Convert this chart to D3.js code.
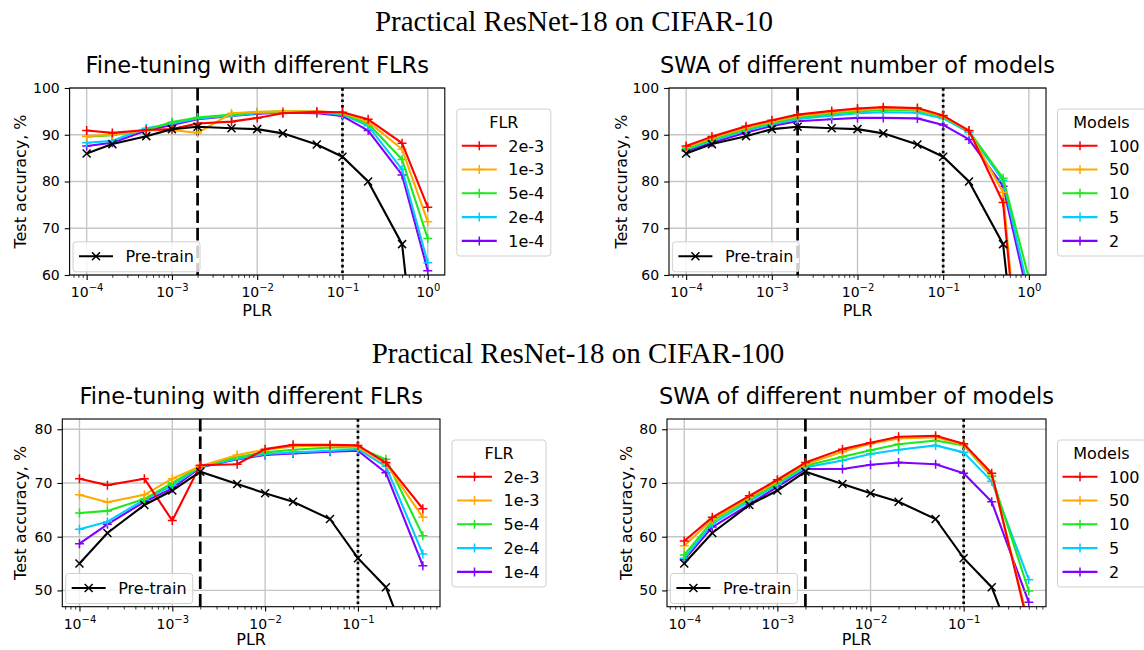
<!DOCTYPE html>
<html>
<head>
<meta charset="utf-8">
<script src="https://cdn.jsdelivr.net/npm/d3@7"></script>
<style>
  body { margin: 0; background: #fff; }
  svg text { font-family: "DejaVu Sans", sans-serif; fill: #000; }
</style>
</head>
<body>
<svg id="fig" width="1144" height="650"></svg>
<script>
// PLR values (x axis)
var plrC10 = [1e-4, 2e-4, 5e-4, 1e-3, 2e-3, 5e-3, 1e-2, 2e-2, 5e-2, 1e-1, 2e-1, 5e-1, 1];
var plrC100 = [1e-4, 2e-4, 5e-4, 1e-3, 2e-3, 5e-3, 1e-2, 2e-2, 5e-2, 1e-1, 2e-1, 5e-1];

var flrLabels = ["2e-3", "1e-3", "5e-4", "2e-4", "1e-4"];
var modelLabels = ["100", "50", "10", "5", "2"];
var seriesColors = ["#ff0000", "#ffaa00", "#1ee81e", "#00ccff", "#8000ff"];

var xTicksTop = [1e-4, 1e-3, 1e-2, 1e-1, 1];
var xTicksBottom = [1e-4, 1e-3, 1e-2, 1e-1];
var yTicksTop = [60, 70, 80, 90, 100];
var yTicksBottom = [50, 60, 70, 80];

// CIFAR-10
var c10Pretrain = [86.0, 88.0, 89.7, 91.2, 91.7, 91.4, 91.2, 90.3, 87.9, 85.3, 80.0, 66.6, 17.0];
var c10Ft2e3 = [90.9, 90.4, 91.0, 91.2, 92.4, 92.8, 93.6, 94.6, 94.9, 94.8, 93.3, 88.2, 74.5];
var c10Ft1e3 = [89.7, 90.0, 91.0, 91.0, 90.4, 94.6, 94.9, 95.0, 95.0, 94.7, 92.8, 86.9, 71.4];
var c10Ft5e4 = [89.6, 89.9, 91.0, 92.7, 93.7, 94.3, 94.8, 95.0, 94.9, 94.5, 92.4, 84.7, 67.8];
var c10Ft2e4 = [88.3, 88.7, 91.4, 92.4, 93.5, 94.1, 94.6, 94.8, 94.8, 94.3, 91.9, 82.6, 62.6];
var c10Ft1e4 = [87.6, 88.3, 90.9, 92.1, 93.3, 94.0, 94.5, 94.7, 94.6, 94.0, 90.9, 81.4, 60.9];

var c10Swa100 = [87.6, 89.6, 91.8, 93.1, 94.3, 95.1, 95.6, 95.9, 95.7, 94.1, 90.9, 75.5, 16.8];
var c10Swa50 = [87.3, 89.3, 91.5, 92.8, 94.0, 94.8, 95.3, 95.6, 95.4, 94.0, 90.8, 77.7, 17.0];
var c10Swa10 = [87.0, 89.0, 91.2, 92.5, 93.7, 94.5, 95.0, 95.3, 95.2, 93.8, 90.8, 80.7, 59.3];
var c10Swa5 = [86.8, 88.7, 90.9, 92.2, 93.4, 94.1, 94.6, 94.8, 94.7, 93.5, 90.5, 80.2, 56.3];
var c10Swa2 = [86.5, 88.3, 90.5, 91.9, 92.9, 93.3, 93.6, 93.6, 93.5, 92.1, 89.0, 79.0, 54.6];

// CIFAR-100
var c100Pretrain = [55.0, 60.7, 65.9, 68.6, 72.1, 69.8, 68.1, 66.5, 63.3, 56.0, 50.6, 33.0];
var c100Ft2e3 = [70.8, 69.6, 70.8, 63.0, 73.3, 73.5, 76.3, 77.1, 77.1, 77.0, 73.8, 65.2];
var c100Ft1e3 = [67.8, 66.4, 67.8, 70.8, 73.1, 75.2, 76.2, 76.8, 77.0, 76.7, 73.6, 63.6];
var c100Ft5e4 = [64.4, 64.8, 67.0, 70.0, 73.1, 74.8, 75.7, 76.2, 76.6, 76.6, 74.4, 60.2];
var c100Ft2e4 = [61.4, 62.8, 66.9, 69.5, 73.0, 74.5, 75.4, 75.7, 76.0, 76.3, 73.1, 56.8];
var c100Ft1e4 = [58.7, 62.3, 66.5, 69.0, 72.9, 74.4, 75.2, 75.5, 75.8, 76.0, 71.9, 54.6];

var c100Swa100 = [59.2, 63.6, 67.6, 70.6, 73.8, 76.3, 77.5, 78.6, 78.8, 77.3, 71.8, 43.0];
var c100Swa50 = [58.3, 63.2, 67.3, 70.3, 73.5, 75.8, 77.3, 78.3, 78.5, 77.1, 71.4, 43.8];
var c100Swa10 = [56.6, 62.9, 67.0, 70.0, 73.2, 74.9, 76.1, 77.2, 77.9, 77.0, 71.2, 49.9];
var c100Swa5 = [56.0, 62.4, 66.6, 69.7, 72.9, 74.2, 75.4, 76.2, 77.0, 75.7, 70.3, 52.0];
var c100Swa2 = [55.7, 61.8, 66.0, 69.3, 72.6, 72.6, 73.4, 73.8, 73.5, 71.8, 66.5, 47.8];

var svg = d3.select("#fig");

// figure titles
svg.append("text").attr("x", 574).attr("y", 31).attr("text-anchor", "middle")
  .style("font-family", "'Liberation Serif', 'Times New Roman', serif").style("font-size", "29px")
  .text("Practical ResNet-18 on CIFAR-10");
svg.append("text").attr("x", 578).attr("y", 363).attr("text-anchor", "middle")
  .style("font-family", "'Liberation Serif', 'Times New Roman', serif").style("font-size", "29px")
  .text("Practical ResNet-18 on CIFAR-100");

var plusPath = "M-4.5,0H4.5M0,-4.5V4.5";
var crossPath = "M-4,-4L4,4M-4,4L4,-4";

function drawPanel(p) {
  var x = d3.scaleLog().domain(p.xDomain).range([p.left, p.right]);
  var y = d3.scaleLinear().domain(p.yDomain).range([p.bottom, p.top]);
  var g = svg.append("g");

  svg.append("clipPath").attr("id", "clip" + p.id)
    .append("rect")
    .attr("x", p.left).attr("y", p.top)
    .attr("width", p.right - p.left).attr("height", p.bottom - p.top);

  // grid
  g.append("g").selectAll("line").data(p.xTicks).enter().append("line")
    .attr("x1", d => x(d)).attr("x2", d => x(d))
    .attr("y1", p.top).attr("y2", p.bottom)
    .attr("stroke", "#c6c6c6").attr("stroke-width", 1.4);
  g.append("g").selectAll("line").data(p.yTicks).enter().append("line")
    .attr("x1", p.left).attr("x2", p.right)
    .attr("y1", d => y(d)).attr("y2", d => y(d))
    .attr("stroke", "#c6c6c6").attr("stroke-width", 1.4);

  // reference lines
  g.append("line").attr("x1", x(2e-3)).attr("x2", x(2e-3))
    .attr("y1", p.top).attr("y2", p.bottom)
    .attr("stroke", "#000").attr("stroke-width", 2.7).attr("stroke-dasharray", "12.5,5");
  g.append("line").attr("x1", x(1e-1)).attr("x2", x(1e-1))
    .attr("y1", p.top).attr("y2", p.bottom)
    .attr("stroke", "#000").attr("stroke-width", 2.7).attr("stroke-dasharray", "2.7,3");

  var plot = g.append("g").attr("clip-path", "url(#clip" + p.id + ")");
  var line = d3.line().x(d => x(d[0])).y(d => y(d[1]));

  // coloured series, last legend entry drawn first
  for (var i = p.series.length - 1; i >= 0; i--) {
    var pts = p.xs.map((v, j) => [v, p.series[i][j]]);
    plot.append("path").datum(pts).attr("d", line)
      .attr("fill", "none").attr("stroke", seriesColors[i]).attr("stroke-width", 2.1)
      .attr("stroke-linejoin", "round");
    plot.append("g").selectAll("path").data(pts).enter().append("path")
      .attr("transform", d => "translate(" + x(d[0]) + "," + y(d[1]) + ")")
      .attr("d", plusPath).attr("stroke", seriesColors[i]).attr("stroke-width", 1.5);
  }
  var pre = p.xs.map((v, j) => [v, p.pretrain[j]]);
  plot.append("path").datum(pre).attr("d", line)
    .attr("fill", "none").attr("stroke", "#000").attr("stroke-width", 2.1);
  plot.append("g").selectAll("path").data(pre).enter().append("path")
    .attr("transform", d => "translate(" + x(d[0]) + "," + y(d[1]) + ")")
    .attr("d", crossPath).attr("stroke", "#000").attr("stroke-width", 1.5);

  // frame
  g.append("rect").attr("x", p.left).attr("y", p.top)
    .attr("width", p.right - p.left).attr("height", p.bottom - p.top)
    .attr("fill", "none").attr("stroke", "#000").attr("stroke-width", 1.1);

  // axes
  var minor = [];
  for (var e = -5; e <= 0; e++) for (var k = 2; k <= 9; k++) {
    var v = k * Math.pow(10, e);
    if (v > p.xDomain[0] && v < p.xDomain[1]) minor.push(v);
  }
  var gMinor = g.append("g").attr("transform", "translate(0," + p.bottom + ")")
    .call(d3.axisBottom(x).tickValues(minor).tickSize(2.8).tickFormat(""));
  gMinor.select(".domain").remove();
  gMinor.selectAll("line").attr("stroke-width", 0.8);

  var gx = g.append("g").attr("transform", "translate(0," + p.bottom + ")")
    .call(d3.axisBottom(x).tickValues(p.xTicks).tickSize(4.9).tickPadding(5).tickFormat(""));
  gx.select(".domain").remove();
  gx.selectAll("line").attr("stroke-width", 1.1);
  gx.selectAll(".tick text").each(function(d) {
    var t = d3.select(this).attr("dy", null).attr("y", 22).style("font-size", "14px");
    var ex = Math.round(Math.log10(d));
    t.append("tspan").text("10");
    t.append("tspan").attr("dy", -6).style("font-size", "10px")
      .text(ex < 0 ? "\u2212" + (-ex) : String(ex));
  });

  var gy = g.append("g").attr("transform", "translate(" + p.left + ",0)")
    .call(d3.axisLeft(y).tickValues(p.yTicks).tickSize(4.9).tickPadding(5));
  gy.select(".domain").remove();
  gy.selectAll("line").attr("stroke-width", 1.1);
  gy.selectAll(".tick text").style("font-size", "14px").style("font-family", "'DejaVu Sans'");

  // labels
  g.append("text").attr("x", (p.left + p.right) / 2).attr("y", p.top - 15)
    .attr("text-anchor", "middle").style("font-size", "22.5px").text(p.title);
  g.append("text").attr("x", (p.left + p.right) / 2).attr("y", Math.min(p.bottom + 41, 645))
    .attr("text-anchor", "middle").style("font-size", "16px").text("PLR");
  g.append("text")
    .attr("transform", "translate(" + p.yLabelX + "," + ((p.top + p.bottom) / 2) + ") rotate(-90)")
    .attr("dy", "0.36em").attr("text-anchor", "middle").style("font-size", "16px")
    .text("Test accuracy, %");

  // pre-train legend (lower left)
  var bx = p.left + 3.4, by = p.bottom - 3.2 - 30;
  var lg = g.append("g");
  lg.append("rect").attr("x", bx).attr("y", by).attr("width", 127).attr("height", 30)
    .attr("rx", 3).attr("fill", "#fff").attr("fill-opacity", 0.8)
    .attr("stroke", "#d0d0d0").attr("stroke-width", 1);
  lg.append("line").attr("x1", bx + 6).attr("x2", bx + 40).attr("y1", by + 14.5).attr("y2", by + 14.5)
    .attr("stroke", "#000").attr("stroke-width", 2.1);
  lg.append("path").attr("transform", "translate(" + (bx + 23) + "," + (by + 14.5) + ")")
    .attr("d", crossPath).attr("stroke", "#000").attr("stroke-width", 1.5);
  lg.append("text").attr("x", bx + 52.5).attr("y", by + 20.5).style("font-size", "16px").text("Pre-train");

  // series legend (outside right)
  var rx = p.right + p.legendGap, ry = p.top + 21;
  var rg = g.append("g");
  rg.append("rect").attr("x", rx).attr("y", ry).attr("width", p.legendW).attr("height", 147)
    .attr("rx", 3).attr("fill", "#fff").attr("stroke", "#d0d0d0").attr("stroke-width", 1);
  rg.append("text").attr("x", rx + p.legendW / 2).attr("y", ry + 19)
    .attr("text-anchor", "middle").style("font-size", "16px").text(p.legendTitle);
  p.legendLabels.forEach(function(lab, i) {
    var ly = ry + 36.7 + i * 23.8;
    rg.append("line").attr("x1", rx + 5).attr("x2", rx + 40).attr("y1", ly).attr("y2", ly)
      .attr("stroke", seriesColors[i]).attr("stroke-width", 2.1);
    rg.append("path").attr("transform", "translate(" + (rx + 22.5) + "," + ly + ")")
      .attr("d", plusPath).attr("stroke", seriesColors[i]).attr("stroke-width", 1.5);
    rg.append("text").attr("x", rx + 51.5).attr("y", ly + 5.8).style("font-size", "16px").text(lab);
  });
}

var dTop = [Math.pow(10, -4.2), Math.pow(10, 0.2)];
var dBot = [Math.pow(10, -4.185), Math.pow(10, -0.116)];

drawPanel({
  id: 1, left: 69.6, right: 444.8, top: 88, bottom: 275, yLabelX: 20,
  xDomain: dTop, yDomain: [60, 100], xTicks: xTicksTop, yTicks: yTicksTop,
  title: "Fine-tuning with different FLRs", xs: plrC10, pretrain: c10Pretrain,
  series: [c10Ft2e3, c10Ft1e3, c10Ft5e4, c10Ft2e4, c10Ft1e4],
  legendTitle: "FLR", legendLabels: flrLabels, legendGap: 12, legendW: 94
});
drawPanel({
  id: 2, left: 669, right: 1046, top: 88, bottom: 275, yLabelX: 621,
  xDomain: dTop, yDomain: [60, 100], xTicks: xTicksTop, yTicks: yTicksTop,
  title: "SWA of different number of models", xs: plrC10, pretrain: c10Pretrain,
  series: [c10Swa100, c10Swa50, c10Swa10, c10Swa5, c10Swa2],
  legendTitle: "Models", legendLabels: modelLabels, legendGap: 11.5, legendW: 88
});
drawPanel({
  id: 3, left: 62.3, right: 440, top: 419, bottom: 606.7, yLabelX: 20,
  xDomain: dBot, yDomain: [46.97, 81.91], xTicks: xTicksBottom, yTicks: yTicksBottom,
  title: "Fine-tuning with different FLRs", xs: plrC100, pretrain: c100Pretrain,
  series: [c100Ft2e3, c100Ft1e3, c100Ft5e4, c100Ft2e4, c100Ft1e4],
  legendTitle: "FLR", legendLabels: flrLabels, legendGap: 12, legendW: 94
});
drawPanel({
  id: 4, left: 667, right: 1046, top: 419, bottom: 606.7, yLabelX: 626,
  xDomain: dBot, yDomain: [46.97, 81.91], xTicks: xTicksBottom, yTicks: yTicksBottom,
  title: "SWA of different number of models", xs: plrC100, pretrain: c100Pretrain,
  series: [c100Swa100, c100Swa50, c100Swa10, c100Swa5, c100Swa2],
  legendTitle: "Models", legendLabels: modelLabels, legendGap: 11.5, legendW: 88
});
</script>
</body>
</html>
